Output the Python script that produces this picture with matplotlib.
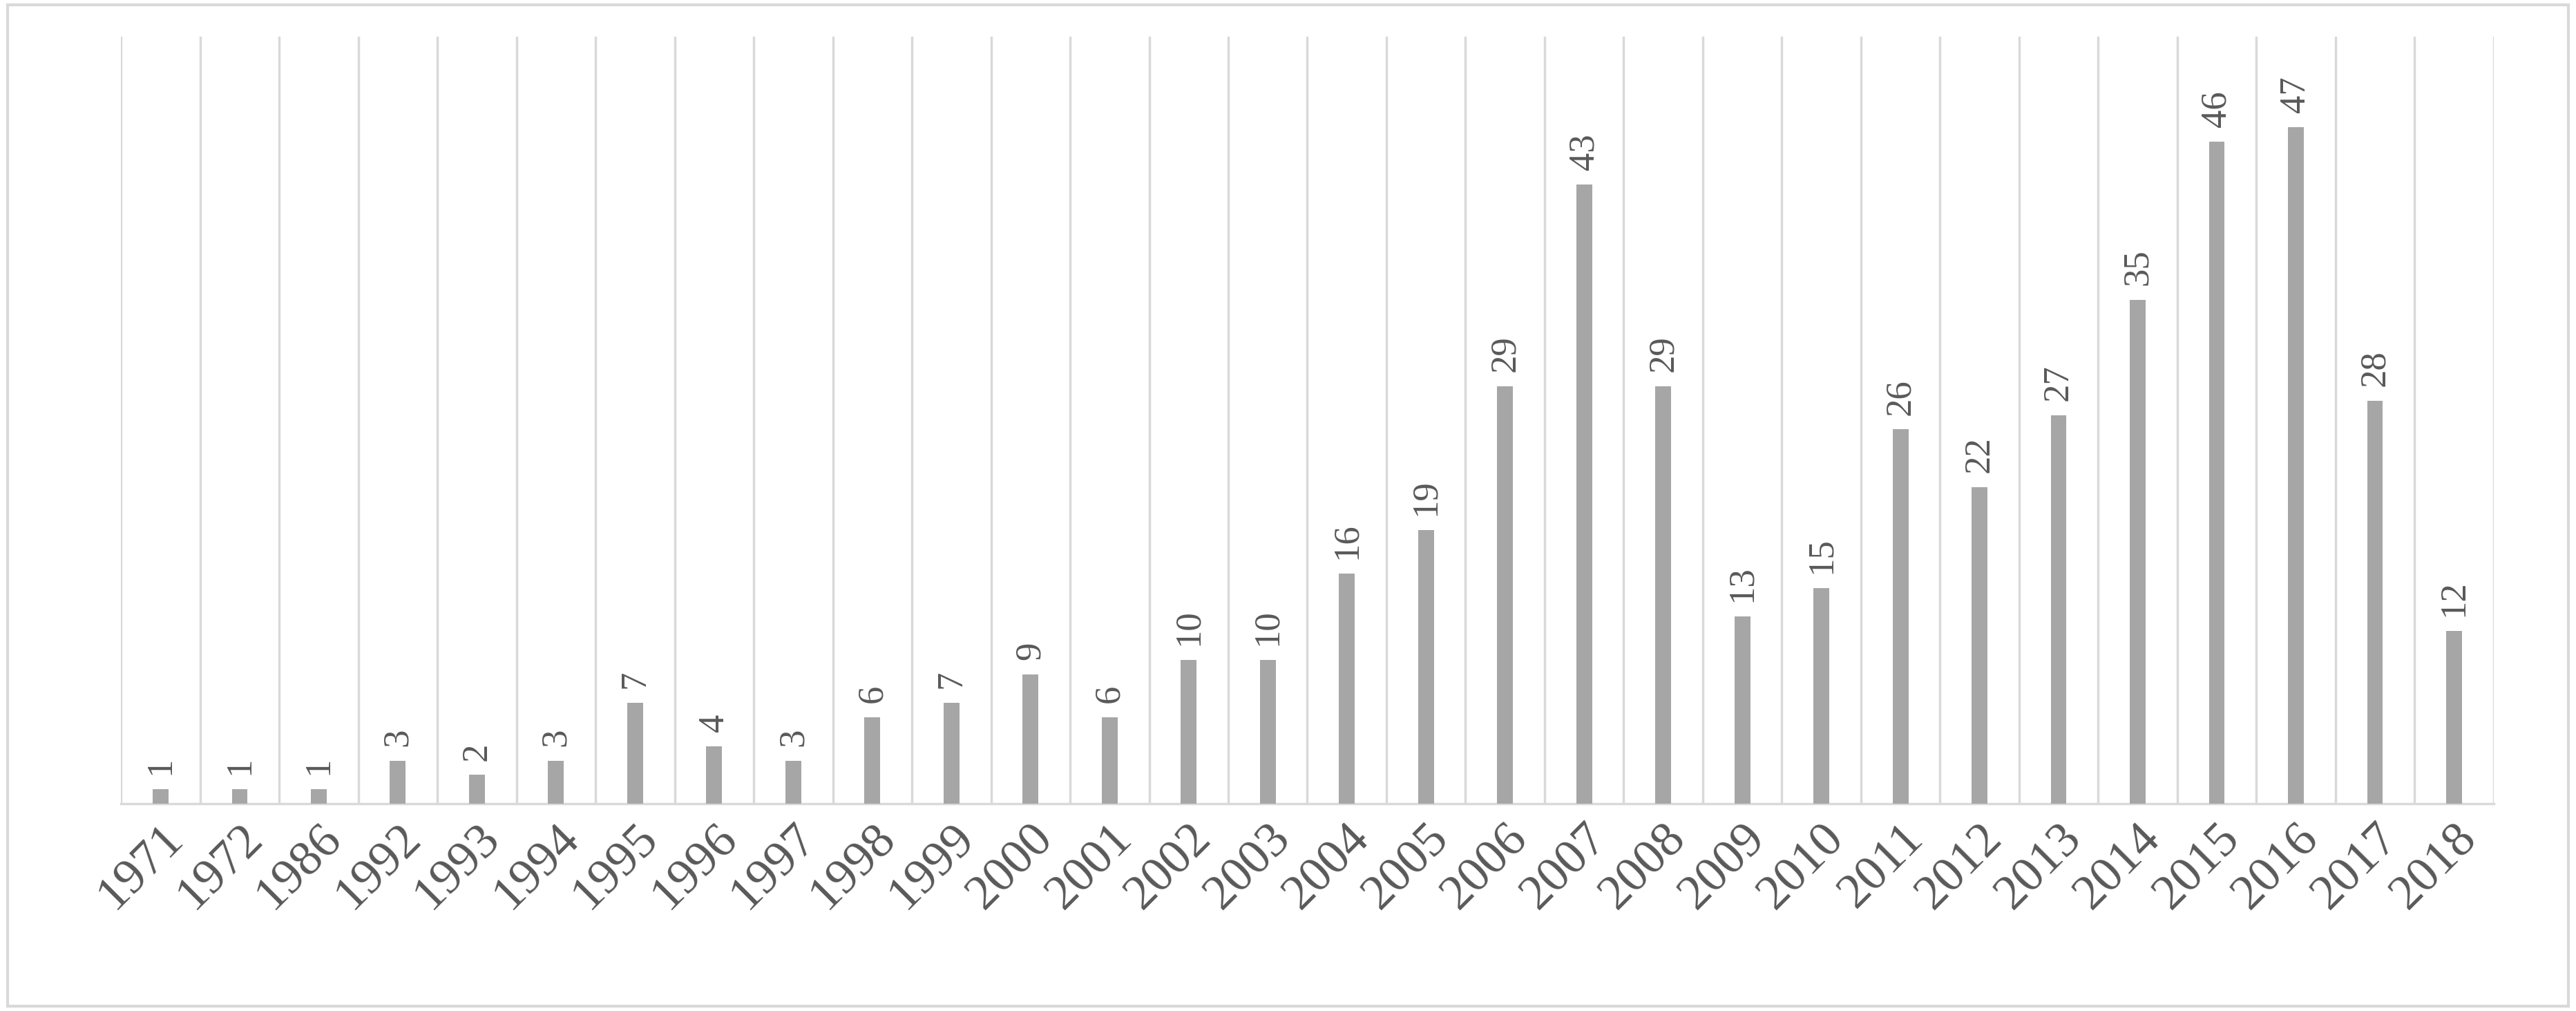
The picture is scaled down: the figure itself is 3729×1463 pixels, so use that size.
import matplotlib
matplotlib.use('Agg')
import matplotlib.pyplot as plt
from matplotlib.patches import Rectangle

years = ['1971', '1972', '1986', '1992', '1993', '1994', '1995', '1996', '1997', '1998',
         '1999', '2000', '2001', '2002', '2003', '2004', '2005', '2006', '2007', '2008',
         '2009', '2010', '2011', '2012', '2013', '2014', '2015', '2016', '2017', '2018']
counts = [1, 1, 1, 3, 2, 3, 7, 4, 3, 6, 7, 9, 6, 10, 10, 16, 19, 29, 43, 29,
          13, 15, 26, 22, 27, 35, 46, 47, 28, 12]

plt.rcParams['font.family'] = ['Liberation Serif', 'DejaVu Serif']

fig = plt.figure(figsize=(37.29, 14.63), dpi=100)
ax = fig.add_axes([0.047, 0.205, 0.921, 0.759])

x = range(len(years))
ax.bar(x, counts, width=0.2, color='#a6a6a6', zorder=3)
for i, v in zip(x, counts):
    ax.text(i, v + 1.0, str(v), rotation=90, ha='center', va='bottom',
            fontsize=38, color='#595959')

for i in range(len(years) + 1):
    ax.axvline(i - 0.5, color='#d9d9d9', linewidth=2.5, zorder=1)

ax.set_xlim(-0.5, len(years) - 0.5)
ax.set_ylim(0, 53.3)
ax.set_xticks(list(x))
ax.set_xticklabels(years, rotation=45, ha='right', rotation_mode='anchor',
                   fontsize=52, color='#595959')
ax.tick_params(axis='x', length=0, pad=12)
ax.set_yticks([])
for side in ['top', 'left', 'right']:
    ax.spines[side].set_visible(False)
ax.spines['bottom'].set_color('#d9d9d9')
ax.spines['bottom'].set_linewidth(2.5)

fig.patches.append(Rectangle((0.003, 0.005), 0.994, 0.99, transform=fig.transFigure,
                             fill=False, edgecolor='#d9d9d9', linewidth=3))

fig.savefig('out.png', dpi=100)
